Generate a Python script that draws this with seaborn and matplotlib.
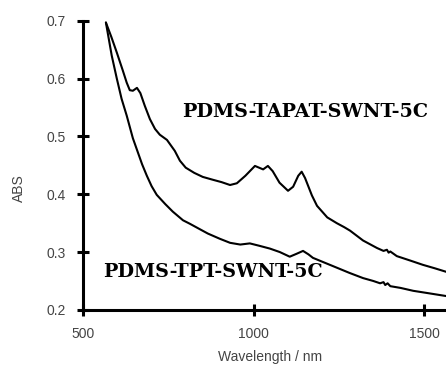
import numpy as np
import pandas as pd
import matplotlib
matplotlib.use("Agg")
import matplotlib.pyplot as plt
import seaborn as sns

# spectra
wl_tapat = [566, 582, 598, 615, 627, 636, 645, 657, 667, 680, 695, 710, 724, 745, 768,
            783, 800, 825, 850, 880, 905, 930, 950, 975, 1003, 1015, 1027, 1041, 1055,
            1075, 1100, 1115, 1130, 1140, 1150, 1170, 1185, 1215, 1243, 1265, 1282,
            1320, 1361, 1380, 1390, 1395, 1400, 1419, 1460, 1495, 1530, 1563, 1590]
abs_tapat = [0.697, 0.672, 0.645, 0.615, 0.593, 0.580, 0.579, 0.584, 0.575, 0.553, 0.530,
             0.513, 0.503, 0.494, 0.475, 0.458, 0.446, 0.437, 0.430, 0.425, 0.421, 0.416,
             0.419, 0.432, 0.449, 0.446, 0.443, 0.449, 0.440, 0.420, 0.406, 0.413, 0.432,
             0.439, 0.428, 0.398, 0.380, 0.360, 0.350, 0.343, 0.337, 0.320, 0.307, 0.302,
             0.304, 0.299, 0.301, 0.293, 0.285, 0.278, 0.272, 0.266, 0.262]

wl_tpt = [566, 583, 598, 612, 627, 645, 657, 672, 686, 700, 715, 740, 762, 792, 812, 840,
          865, 900, 930, 960, 988, 1015, 1047, 1076, 1105, 1125, 1144, 1160, 1173, 1210,
          1243, 1280, 1320, 1350, 1370, 1380, 1385, 1392, 1400, 1430, 1467, 1510, 1563, 1590]
abs_tpt = [0.697, 0.640, 0.600, 0.565, 0.536, 0.497, 0.477, 0.452, 0.432, 0.414, 0.399,
           0.383, 0.370, 0.355, 0.349, 0.340, 0.332, 0.323, 0.316, 0.313, 0.315, 0.311,
           0.306, 0.300, 0.292, 0.297, 0.302, 0.296, 0.290, 0.281, 0.273, 0.264, 0.255,
           0.250, 0.246, 0.248, 0.243, 0.246, 0.241, 0.238, 0.233, 0.229, 0.224, 0.221]

labels = ["PDMS-TAPAT-SWNT-5C", "PDMS-TPT-SWNT-5C"]
xticks = [500, 1000, 1500]
yticks = [0.2, 0.3, 0.4, 0.5, 0.6, 0.7]

sns.set_style("white")
plt.rcParams['font.family'] = ['Liberation Sans', 'DejaVu Sans']

fig = plt.figure(figsize=(4.46, 3.65), dpi=100)
ax = fig.add_axes([0.187, 0.151, 0.835, 0.792])

sns.lineplot(x=wl_tapat, y=abs_tapat, ax=ax, color='black', lw=1.5, sort=False)
sns.lineplot(x=wl_tpt, y=abs_tpt, ax=ax, color='black', lw=1.5, sort=False)

ax.set_xlim(500, 1592)
ax.set_ylim(0.2, 0.7)
ax.set_xticks(xticks)
ax.set_yticks(yticks)
ax.set_yticklabels([f"{v:.1f}" for v in yticks])

for s in ['top', 'right']:
    ax.spines[s].set_visible(False)
for s in ['left', 'bottom']:
    ax.spines[s].set_linewidth(2.2)
    ax.spines[s].set_color('black')
ax.tick_params(bottom=True, left=True, direction='inout', length=9, width=2.2,
               colors='black', labelcolor='#444444', labelsize=10, pad=8)

ax.set_xlabel("Wavelength / nm", fontsize=10, color='#444444')
ax.set_ylabel("ABS", fontsize=10, color='#444444')
ax.xaxis.set_label_coords(0.5, -0.14)
ax.yaxis.set_label_coords(-0.155, 0.42)

ax.text(1150, 0.542, labels[0], fontsize=13.8, fontweight='bold', family='DejaVu Serif',
        ha='center', va='center', color='black')
ax.text(880, 0.265, labels[1], fontsize=13.8, fontweight='bold', family='DejaVu Serif',
        ha='center', va='center', color='black')

fig.savefig("out.png", dpi=100)
